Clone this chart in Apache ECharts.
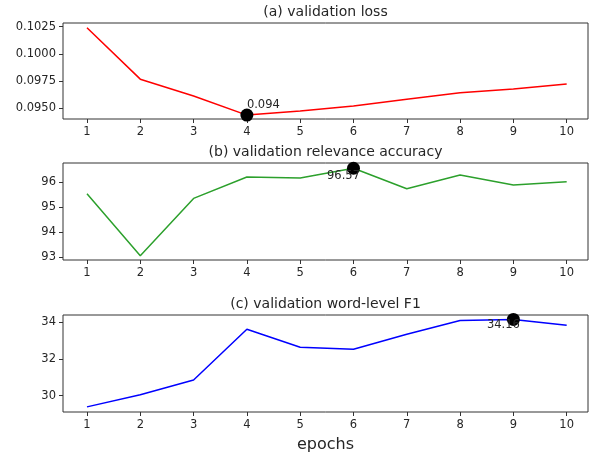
<!DOCTYPE html>
<html>
<head>
<meta charset="utf-8">
<script src="https://cdn.jsdelivr.net/npm/echarts@6/dist/echarts.min.js"></script>
<style>html,body{margin:0;padding:0;background:#fff;}#c{width:590px;height:456px;}</style>
</head>
<body>
<div id="c"></div>
<script>
var epochs = [1, 2, 3, 4, 5, 6, 7, 8, 9, 10];
var valLoss = [0.1024, 0.09768, 0.09613, 0.09438, 0.09475, 0.09521, 0.09583, 0.09643, 0.09677, 0.09723];
var relAcc = [95.55, 93.06, 95.36, 96.22, 96.18, 96.57, 95.75, 96.30, 95.90, 96.03];
var wordF1 = [29.38, 30.04, 30.85, 33.62, 32.64, 32.53, 33.35, 34.10, 34.16, 33.84];
var titles = ['(a) validation loss', '(b) validation relevance accuracy', '(c) validation word-level F1'];
var bestEpoch = [4, 6, 9];
var bestLabels = ['0.094', '96.57', '34.16'];
var lossTicks = [0.0950, 0.0975, 0.1000, 0.1025];
var accTicks = [93, 94, 95, 96];
var f1Ticks = [30, 32, 34];
var xLabel = 'epochs';

var font = 'DejaVu Sans';
var txt = '#262626';
var grids = [
  {left: 63, width: 525, top: 23, height: 96},
  {left: 63, width: 525, top: 163, height: 97},
  {left: 63, width: 525, top: 315, height: 97}
];
var yRanges = [[0.09402, 0.10284], [92.89, 96.78], [29.10, 34.40]];
var yTicks = [lossTicks, accTicks, f1Ticks];
var yFmt = [function (v) { return v.toFixed(4); }, function (v) { return String(v); }, function (v) { return String(v); }];
var seriesData = [valLoss, relAcc, wordF1];
var colors = ['#ff0000', '#2ca02c', '#0000ff'];
var labelOffsets = [[0, -10], [-10, 8], [-10, 6]];
var labelAlign = ['left', 'center', 'center'];

var xAxes = [], yAxes = [], series = [], graphics = [];
for (var i = 0; i < 3; i++) {
  grids[i].show = true;
  grids[i].borderColor = '#333';
  grids[i].borderWidth = 1;
  xAxes.push({
    type: 'value', gridIndex: i, min: 0.55, max: 10.4,
    axisLine: {show: false},
    axisTick: {show: true, length: 4, customValues: epochs, lineStyle: {color: '#333'}},
    axisLabel: {customValues: epochs, color: txt, fontFamily: font, fontSize: 11.5, margin: 7},
    splitLine: {show: false},
    name: i === 2 ? xLabel : '',
    nameLocation: 'middle', nameGap: 25,
    nameTextStyle: {color: txt, fontFamily: font, fontSize: 16}
  });
  yAxes.push({
    type: 'value', gridIndex: i, min: yRanges[i][0], max: yRanges[i][1],
    axisLine: {show: false},
    axisTick: {show: true, length: 4, customValues: yTicks[i], lineStyle: {color: '#333'}},
    axisLabel: {customValues: yTicks[i], formatter: yFmt[i], color: txt, fontFamily: font, fontSize: 11.5, margin: 7},
    splitLine: {show: false}
  });
  var pts = epochs.map(function (e, k) { return [e, seriesData[i][k]]; });
  series.push({
    type: 'line', xAxisIndex: i, yAxisIndex: i, data: pts,
    symbol: 'none', lineStyle: {color: colors[i], width: 1.5}, z: 2, silent: true
  });
  var bi = epochs.indexOf(bestEpoch[i]);
  series.push({
    type: 'scatter', xAxisIndex: i, yAxisIndex: i,
    data: [[bestEpoch[i], seriesData[i][bi]]],
    symbolSize: 13, itemStyle: {color: '#000', opacity: 1}, z: 3,
    label: {
      show: true, position: 'inside', offset: labelOffsets[i],
      align: labelAlign[i],
      formatter: bestLabels[i], color: txt, fontFamily: font, fontSize: 11.5
    }
  });
  graphics.push({
    type: 'text',
    x: 325.5, y: grids[i].top - 11,
    style: {text: titles[i], fill: txt, font: '14px "DejaVu Sans"', align: 'center', verticalAlign: 'middle', textAlign: 'center', textVerticalAlign: 'middle'}
  });
}

var chart = echarts.init(document.getElementById('c'), null, {renderer: 'canvas'});
chart.setOption({
  animation: false,
  backgroundColor: '#fff',
  grid: grids,
  xAxis: xAxes,
  yAxis: yAxes,
  series: series,
  graphic: graphics
});
</script>
</body>
</html>
